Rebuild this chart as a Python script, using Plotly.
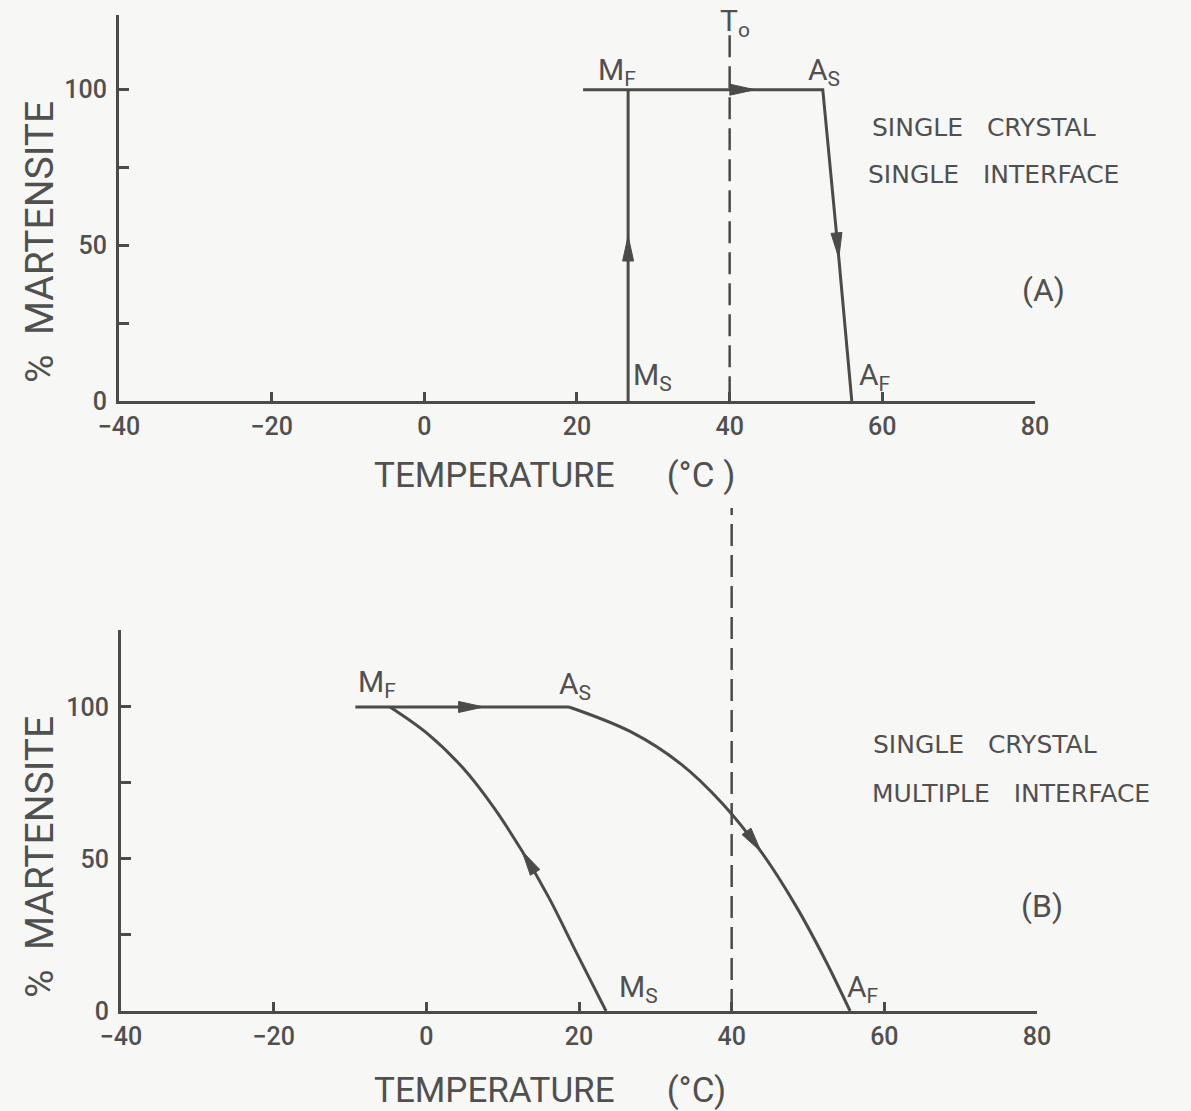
import numpy as np
import plotly.graph_objects as go

# ---------------- data ----------------
T0 = 40  # equilibrium temperature (°C)

# (A) single crystal, single interface
a_cool_temp = [26.7, 26.7, 26.7]
a_cool_mart = [0, 53, 100]
a_cool_arrows = [1]
a_heat_temp = [20.8, 43.3, 52.2, 54.3, 56.0]
a_heat_mart = [100, 100, 100, 46, 0]
a_heat_arrows = [1, 3]

# (B) single crystal, multiple interface
b_cool_temp = [23.54, 19.48, 16.07, 12.54, 8.87, 4.81, 0.22, -4.76]
b_cool_mart = [0, 20.1, 37.2, 52.6, 66.8, 79.9, 91.1, 100]
b_cool_arrows = [3]
b_flat_temp = [-9.3, 7.5, 18.69]
b_flat_mart = [100, 100, 100]
b_flat_arrows = [1]
b_heat_temp = [18.69, 26.82, 33.37, 38.87, 43.85, 48.43, 52.36, 55.51]
b_heat_mart = [100, 91.8, 81.2, 68.0, 52.4, 34.5, 16.3, 0]
b_heat_arrows = [4]

x_ticks = [-40, -20, 0, 20, 40, 60, 80]
x_tick_text = ["\u221240", "\u221220", "0", "20", "40", "60", "80"]
y_ticks = [0, 50, 100]
y_tick_text = ["0", "50", "100"]
y_minor_ticks = [25, 75]

# ---------------- styling / layout ----------------
W, H = 1191, 1111
BG = "#f7f7f5"
INK = "#4b4b47"
TXT = "#505050"
FONT = "Roboto"
WIDE = "DejaVu Sans"

X_RANGE = [-40, 80]
TOP = dict(xdom=[0.0999, 0.8690], ydom=[0.6391, 0.9865], yrange=[0, 124])
BOT = dict(xdom=[0.1016, 0.8707], ydom=[0.0900, 0.4329], yrange=[0, 125.3])

fig = go.Figure()


def scales(p):
    sx = (p["xdom"][1] - p["xdom"][0]) * W / (X_RANGE[1] - X_RANGE[0])
    sy = (p["ydom"][1] - p["ydom"][0]) * H / (p["yrange"][1] - p["yrange"][0])
    return sx, sy


def add_curve(xs, ys, arrows, panel, xa, ya, shape="linear"):
    fig.add_trace(go.Scatter(
        x=xs, y=ys, mode="lines", xaxis=xa, yaxis=ya,
        line=dict(color=INK, width=3, shape=shape, smoothing=1.0)
        if shape == "spline" else dict(color=INK, width=3),
        hoverinfo="skip", showlegend=False))
    # slim filled arrowheads pointing along the direction of travel
    sx, sy = scales(panel)
    L, Wd = 25, 11
    for i in arrows:
        j0 = i - 1
        j1 = i + 1 if i + 1 < len(xs) else i
        dx = (xs[j1] - xs[j0]) * sx
        dy = (ys[j1] - ys[j0]) * sy
        n = np.hypot(dx, dy)
        ux, uy = dx / n, dy / n
        tx, ty = xs[i] * sx, ys[i] * sy
        bx, by = tx - L * ux, ty - L * uy
        px, py = -uy, ux
        tri_x = [tx, bx + Wd / 2 * px, bx - Wd / 2 * px, tx]
        tri_y = [ty, by + Wd / 2 * py, by - Wd / 2 * py, ty]
        fig.add_trace(go.Scatter(
            x=[v / sx for v in tri_x], y=[v / sy for v in tri_y],
            mode="lines", fill="toself", fillcolor=INK,
            line=dict(color=INK, width=1), xaxis=xa, yaxis=ya,
            hoverinfo="skip", showlegend=False))


add_curve(a_cool_temp, a_cool_mart, a_cool_arrows, TOP, "x", "y")
add_curve(a_heat_temp, a_heat_mart, a_heat_arrows, TOP, "x", "y")
add_curve(b_cool_temp, b_cool_mart, b_cool_arrows, BOT, "x2", "y2", "spline")
add_curve(b_flat_temp, b_flat_mart, b_flat_arrows, BOT, "x2", "y2")
add_curve(b_heat_temp, b_heat_mart, b_heat_arrows, BOT, "x2", "y2", "spline")

# T0 dashed line running through both panels
dash = dict(color=INK, width=2.5, dash="22px,9px")
fig.add_shape(type="line", xref="x", yref="y", x0=T0, x1=T0, y0=117.5, y1=0,
              line=dash, layer="below")
fig.add_shape(type="line", xref="x2", yref="paper", x0=T0, x1=T0,
              y0=BOT["ydom"][0], y1=1 - 508 / H, line=dash, layer="below")

axis_common = dict(
    showgrid=False, zeroline=False, showline=True, linecolor=INK, linewidth=3,
    ticks="inside", tickcolor=INK, tickwidth=2.5, automargin=False,
    tickfont=dict(family=FONT, size=25, color=TXT, weight=500),
)
minor_y = dict(tickvals=y_minor_ticks, ticks="inside", ticklen=10,
               tickwidth=2.5, tickcolor=INK, showgrid=False)

fig.update_layout(
    width=W, height=H, margin=dict(l=0, r=0, t=0, b=0),
    paper_bgcolor=BG, plot_bgcolor=BG, showlegend=False,
    xaxis=dict(domain=TOP["xdom"], range=X_RANGE, tickvals=x_ticks,
               ticktext=x_tick_text, ticklen=9, ticklabelstandoff=1,
               anchor="y", **axis_common),
    yaxis=dict(domain=TOP["ydom"], range=TOP["yrange"], tickvals=y_ticks,
               ticktext=y_tick_text, ticklen=10, ticklabelstandoff=4,
               minor=minor_y, anchor="x", **axis_common),
    xaxis2=dict(domain=BOT["xdom"], range=X_RANGE, tickvals=x_ticks,
                ticktext=x_tick_text, ticklen=9, ticklabelstandoff=1,
                anchor="y2", **axis_common),
    yaxis2=dict(domain=BOT["ydom"], range=BOT["yrange"], tickvals=y_ticks,
                ticktext=y_tick_text, ticklen=10, ticklabelstandoff=4,
                minor=minor_y, anchor="x2", **axis_common),
)


def label(text, x, y, xa, ya, size=30, xanchor="center", yanchor="middle",
          family=FONT):
    fig.add_annotation(text=text, x=x, y=y, xref=xa, yref=ya, showarrow=False,
                       xanchor=xanchor, yanchor=yanchor,
                       font=dict(family=family, size=size, color=TXT))


NB = "\u00a0"
# panel (A)
label("M<sub>F</sub>", 25.3, 105.7, "x", "y")
label("A<sub>S</sub>", 52.4, 105.7, "x", "y")
label("M<sub>S</sub>", 29.9, 8.0, "x", "y")
label("A<sub>F</sub>", 59.0, 8.0, "x", "y")
label("T<sub>o</sub>", 40.7, 121.5, "x", "y", size=30)
label("SINGLE" + NB * 3 + "CRYSTAL", 58.4, 87.7, "x", "y", size=25,
      xanchor="left", family=WIDE)
label("SINGLE" + NB * 3 + "INTERFACE", 57.9, 72.6, "x", "y", size=25,
      xanchor="left", family=WIDE)
label("(A)", 1043 / W, 1 - 290 / H, "paper", "paper", size=32)
# panel (B)
label("M<sub>F</sub>", -6.4, 107.6, "x2", "y2")
label("A<sub>S</sub>", 19.5, 106.9, "x2", "y2")
label("M<sub>S</sub>", 27.8, 7.5, "x2", "y2")
label("A<sub>F</sub>", 57.2, 7.5, "x2", "y2")
label("SINGLE" + NB * 3 + "CRYSTAL", 58.2, 87.5, "x2", "y2", size=25,
      xanchor="left", family=WIDE)
label("MULTIPLE" + NB * 3 + "INTERFACE", 58.1, 71.7, "x2", "y2", size=25,
      xanchor="left", family=WIDE)
label("(B)", 1042 / W, 1 - 906 / H, "paper", "paper", size=32)

# axis titles
for text, yp in (("TEMPERATURE" + NB * 6 + "(\u00b0C" + NB + ")", 1 - 475 / H),
                 ("TEMPERATURE" + NB * 6 + "(\u00b0C)", 1 - 1090 / H)):
    fig.add_annotation(text=text, x=372 / W, y=yp, xref="paper", yref="paper",
                       xanchor="left", yanchor="middle", showarrow=False,
                       font=dict(family=FONT, size=35, color=TXT))
for yp in (1 - 242 / H, 1 - 857 / H):
    fig.add_annotation(text="%" + NB * 2 + "MARTENSITE", x=40 / W, y=yp,
                       xref="paper", yref="paper", textangle=-90,
                       xanchor="center", yanchor="middle", showarrow=False,
                       font=dict(family=FONT, size=39, color=TXT))

fig.write_html("out.html")
